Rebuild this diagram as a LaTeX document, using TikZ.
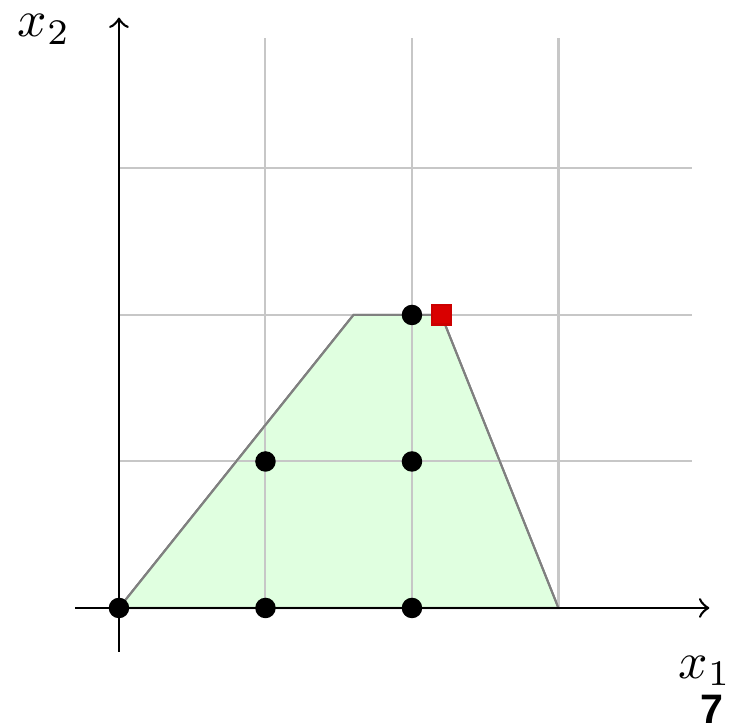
\documentclass[tikz,border=0pt]{standalone}
\usepackage{fontspec}
\newfontfamily\pagefont{Liberation Sans}
\begin{document}
\begin{tikzpicture}[x=1cm,y=1cm,
  gridline/.style={draw=black!22, line width=0.4pt},
  region/.style={fill=green!12, draw=black!50, line width=0.4pt},
  axis/.style={draw=black, line width=0.5pt, ->},
  ipt/.style={circle, fill=black, inner sep=0pt, minimum size=0.14cm},
  lpopt/.style={rectangle, fill=red!85!black, draw=red!80!black, inner sep=0pt, minimum size=0.13cm}]
\useasboundingbox (-0.812,-0.819) rectangle (4.198,4.150);
\fill[region] (0,0) -- (1.6,2) -- (2.2,2) -- (3,0) -- cycle;
\draw[gridline] (1,0) -- (1,3.89);
\draw[gridline] (2,0) -- (2,3.89);
\draw[gridline] (3,0) -- (3,3.89);
\draw[gridline] (0,1) -- (3.91,1);
\draw[gridline] (0,2) -- (3.91,2);
\draw[gridline] (0,3) -- (3.91,3);
\draw[region, fill=none] (0,0) -- (1.6,2) -- (2.2,2) -- (3,0);
\coordinate (xs) at (-0.3,0);
\coordinate (xe) at (4.03,0);
\coordinate (ys) at (0,-0.3);
\coordinate (ye) at (0,4.03);
\draw[axis] (xs) -- (xe);
\draw[axis] (ys) -- (ye);
\node (lx1) at (4.0,-0.43) {$x_1$};
\node (lx2) at (-0.51,3.95) {$x_2$};
\node (pg) at (4.05,-0.69) {\pagefont\bfseries\footnotesize 7};
\node[ipt] (p00) at (0,0) {};
\node[ipt] (p10) at (1,0) {};
\node[ipt] (p20) at (2,0) {};
\node[ipt] (p11) at (1,1) {};
\node[ipt] (p21) at (2,1) {};
\node[ipt] (p22) at (2,2) {};
\node[lpopt] (opt) at (2.2,2) {};
\end{tikzpicture}
\end{document}
